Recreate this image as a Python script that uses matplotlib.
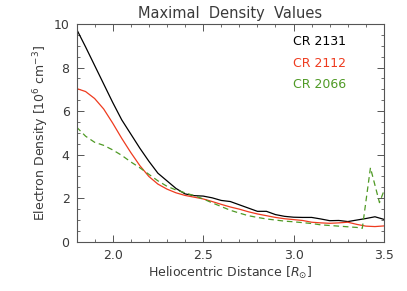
import matplotlib
matplotlib.use('Agg')
from matplotlib import pyplot as plt

# heliocentric distance [R_sun] and max density [10^6 cm^-3]
r_2131 = [1.80, 1.85, 1.90, 1.95, 2.00, 2.05, 2.10, 2.15, 2.20, 2.25, 2.30, 2.35,
          2.40, 2.45, 2.50, 2.55, 2.60, 2.65, 2.70, 2.75, 2.80, 2.85, 2.90, 2.95,
          3.00, 3.05, 3.10, 3.15, 3.20, 3.25, 3.30, 3.35, 3.40, 3.45, 3.50]
ne_2131 = [9.77, 8.95, 8.10, 7.25, 6.40, 5.60, 4.95, 4.30, 3.70, 3.15, 2.80, 2.45,
           2.20, 2.12, 2.10, 2.02, 1.90, 1.85, 1.70, 1.55, 1.40, 1.40, 1.25, 1.17,
           1.13, 1.12, 1.12, 1.05, 0.97, 0.98, 0.93, 1.00, 1.07, 1.15, 1.03]

r_2112 = r_2131
ne_2112 = [7.04, 6.90, 6.58, 6.10, 5.45, 4.75, 4.10, 3.50, 3.00, 2.65, 2.42, 2.25,
           2.13, 2.05, 1.97, 1.85, 1.72, 1.60, 1.50, 1.38, 1.28, 1.20, 1.12, 1.06,
           1.02, 0.98, 0.90, 0.87, 0.85, 0.87, 0.90, 0.80, 0.72, 0.70, 0.73]

r_2066 = [1.80, 1.85, 1.90, 1.95, 2.00, 2.05, 2.10, 2.15, 2.20, 2.25, 2.30, 2.35,
          2.40, 2.45, 2.50, 2.55, 2.60, 2.65, 2.70, 2.75, 2.80, 2.85, 2.90, 2.95,
          3.00, 3.05, 3.10, 3.15, 3.20, 3.25, 3.30, 3.35, 3.38, 3.425, 3.475, 3.50]
ne_2066 = [5.27, 4.85, 4.57, 4.43, 4.22, 3.97, 3.67, 3.40, 3.10, 2.80, 2.55, 2.38,
           2.25, 2.12, 1.97, 1.79, 1.62, 1.45, 1.32, 1.20, 1.12, 1.05, 1.00, 0.95,
           0.92, 0.88, 0.84, 0.78, 0.75, 0.72, 0.69, 0.66, 0.62, 3.40, 1.80, 2.35]

labels = ["CR 2131", "CR 2112", "CR 2066"]
colors = ['black', '#ee3b1f', '#4f9a25']
xticks = [2.0, 2.5, 3.0, 3.5]
yticks = [0, 2, 4, 6, 8, 10]

txt = '#3a3a3a'
plt.rcParams['font.family'] = 'DejaVu Sans'
plt.rcParams['font.size'] = 9

fig = plt.figure(figsize=(4.07, 2.91), dpi=100)
ax = fig.add_axes([0.188, 0.169, 0.7555, 0.7485])

ax.plot(r_2131, ne_2131, color=colors[0], lw=0.9)
ax.plot(r_2112, ne_2112, color=colors[1], lw=0.9)
ax.plot(r_2066, ne_2066, color=colors[2], lw=0.9, dashes=(4.5, 3))

ax.set_xlim(1.8, 3.5)
ax.set_ylim(0, 10)
ax.set_xticks(xticks)
ax.set_xticklabels(['%.1f' % t for t in xticks])
ax.set_yticks(yticks)
ax.set_xticks([1.8 + 0.1 * i for i in range(18)], minor=True)
ax.set_yticks([0.5 * i for i in range(21)], minor=True)
ax.tick_params(which='both', direction='in', top=True, right=True,
               colors='#555555', labelcolor=txt, labelsize=9)
ax.tick_params(which='major', length=5, width=0.7, pad=5)
ax.tick_params(which='minor', length=2.5, width=0.6)
for s in ax.spines.values():
    s.set_color('#555555')
    s.set_linewidth(0.8)

ax.set_title("Maximal  Density  Values", color=txt, fontsize=10.5, pad=4)
ax.set_xlabel(r"Heliocentric Distance [$R_{\odot}$]", color=txt, labelpad=2)
ax.set_ylabel(r"Electron Density [10$^6$ cm$^{-3}$]", color=txt, labelpad=2)

for i, lab in enumerate(labels):
    ax.text(0.705, 0.92 - i * 0.1, lab, color=colors[i], transform=ax.transAxes,
            fontsize=9, va='center', ha='left')

plt.savefig('out.png', dpi=100)
